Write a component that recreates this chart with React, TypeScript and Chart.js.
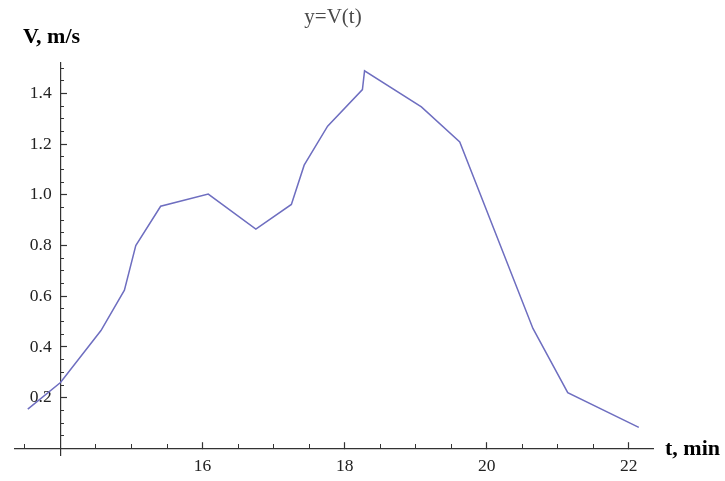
import React, { useEffect, useRef } from "react";
import { Chart, registerables } from "chart.js";

Chart.register(...registerables);

const tValues = [13.54, 14.0, 14.57, 14.9, 15.06, 15.41, 16.08, 16.75, 17.25, 17.43, 17.76, 18.25, 18.28, 19.08, 19.62, 20.65, 21.14, 22.14];
const vValues = [0.155, 0.26, 0.465, 0.624, 0.8, 0.955, 1.003, 0.865, 0.962, 1.117, 1.271, 1.415, 1.489, 1.347, 1.209, 0.473, 0.22, 0.083];

const xMajorTicks = [16, 18, 20, 22];
const xMinorTicks = [13.5, 14.5, 15, 15.5, 16.5, 17, 17.5, 18.5, 19, 19.5, 20.5, 21, 21.5];
const yMajorTicks = [0.2, 0.4, 0.6, 0.8, 1.0, 1.2, 1.4];
const yMinorTicks = [0.05, 0.1, 0.15, 0.25, 0.3, 0.35, 0.45, 0.5, 0.55, 0.65, 0.7, 0.75, 0.85, 0.9, 0.95, 1.05, 1.1, 1.15, 1.25, 1.3, 1.35, 1.45, 1.5];

const titleText = "y=V(t)";
const yAxisLabel = "V, m/s";
const xAxisLabel = "t, min";

const X_MIN = 13.36;
const X_MAX = 22.34;
const Y_MIN = -0.026;
const Y_MAX = 1.52;

const tickFont = { family: "'Liberation Serif', 'Times New Roman', serif", size: 17.5 };
const axisColor = "#333333";

function setTicks(values: number[]) {
  return (scale: any) => {
    scale.ticks = values.map((v) => ({ value: v }));
  };
}

const labelsPlugin = {
  id: "textLabels",
  afterDraw(chart: any) {
    const ctx = chart.ctx;
    ctx.save();
    ctx.fillStyle = "#4a4a4a";
    ctx.font = "21px 'Liberation Serif', serif";
    ctx.textAlign = "center";
    ctx.textBaseline = "alphabetic";
    ctx.fillText(titleText, 333, 23);
    ctx.fillStyle = "#000000";
    ctx.font = "bold 22px 'Liberation Serif', serif";
    ctx.textAlign = "left";
    ctx.fillText(yAxisLabel, 23, 43);
    ctx.fillText(xAxisLabel, 665, 455);
    ctx.restore();
  },
};

export default function App() {
  const ref = useRef<HTMLCanvasElement>(null);
  useEffect(() => {
    if (!ref.current) return;
    const chart = new Chart(ref.current, {
      type: "line",
      data: {
        datasets: [
          {
            data: tValues.map((t, i) => ({ x: t, y: vValues[i] })),
            borderColor: "rgb(110,110,192)",
            borderWidth: 1.5,
            pointRadius: 0,
            tension: 0,
            fill: false,
          },
        ],
      },
      options: {
        responsive: false,
        animation: false,
        maintainAspectRatio: false,
        layout: { padding: { left: 15, right: 72, top: 63, bottom: 26 } },
        plugins: { legend: { display: false }, tooltip: { enabled: false }, title: { display: false } },
        scales: {
          x: {
            type: "linear",
            min: X_MIN,
            max: X_MAX,
            position: { y: 0 } as any,
            afterBuildTicks: setTicks(xMajorTicks),
            grid: { drawOnChartArea: false, tickLength: -7, color: axisColor, tickWidth: 1.2 },
            border: { color: axisColor, width: 1.2 },
            ticks: {
              font: tickFont,
              color: "#222222",
              padding: 14,
              maxRotation: 0,
              autoSkip: false,
              callback: (v: any) => String(v),
            },
          },
          xMinor: {
            type: "linear",
            axis: "x",
            min: X_MIN,
            max: X_MAX,
            position: { y: 0 } as any,
            afterBuildTicks: setTicks(xMinorTicks),
            grid: { drawOnChartArea: false, tickLength: -4, color: axisColor, tickWidth: 1 },
            border: { display: false },
            ticks: { display: false, autoSkip: false },
          } as any,
          y: {
            type: "linear",
            min: Y_MIN,
            max: Y_MAX,
            position: { x: 14 } as any,
            afterBuildTicks: setTicks(yMajorTicks),
            grid: { drawOnChartArea: false, tickLength: -7, color: axisColor, tickWidth: 1.2 },
            border: { color: axisColor, width: 1.2 },
            ticks: {
              font: tickFont,
              color: "#222222",
              padding: 8,
              autoSkip: false,
              callback: (v: any) => Number(v).toFixed(1) + "  ",
            },
          },
          yMinor: {
            type: "linear",
            axis: "y",
            min: Y_MIN,
            max: Y_MAX,
            position: { x: 14 } as any,
            afterBuildTicks: setTicks(yMinorTicks),
            grid: { drawOnChartArea: false, tickLength: -4, color: axisColor, tickWidth: 1 },
            border: { display: false },
            ticks: { display: false, autoSkip: false },
          } as any,
        },
      },
      plugins: [labelsPlugin],
    });
    return () => chart.destroy();
  }, []);
  return (
    <div style={{ position: "fixed", left: 0, top: 0, width: 725, height: 481, background: "#fff" }}>
      <canvas ref={ref} width={725} height={481} style={{ display: "block" }} />
    </div>
  );
}
